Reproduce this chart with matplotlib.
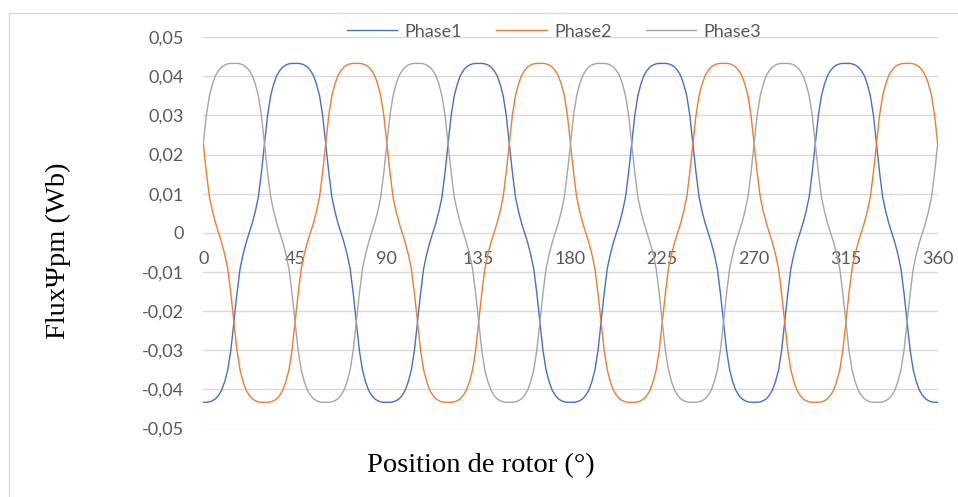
import numpy as np
import matplotlib.pyplot as plt
from matplotlib.lines import Line2D

# rotor position (deg), one sample every 1.5 deg
angle = np.arange(0, 361, 1.5)

# flux linkage per phase (Wb)
phase1 = [
    -0.0433, -0.0433, -0.0432, -0.0429, -0.0424, -0.0415, -0.0402, -0.0380, -0.0350, -0.0300, -0.0228, -0.0155, -0.0092, -0.0055, -0.0025,
    0.0000, 0.0025, 0.0055, 0.0092, 0.0155, 0.0228, 0.0300, 0.0350, 0.0380, 0.0402, 0.0415, 0.0424, 0.0429, 0.0432, 0.0433,
    0.0433, 0.0433, 0.0432, 0.0429, 0.0424, 0.0415, 0.0402, 0.0380, 0.0350, 0.0300, 0.0228, 0.0155, 0.0092, 0.0055, 0.0025,
    0.0000, -0.0025, -0.0055, -0.0092, -0.0155, -0.0228, -0.0300, -0.0350, -0.0380, -0.0402, -0.0415, -0.0424, -0.0429, -0.0432, -0.0433,
    -0.0433, -0.0433, -0.0432, -0.0429, -0.0424, -0.0415, -0.0402, -0.0380, -0.0350, -0.0300, -0.0228, -0.0155, -0.0092, -0.0055, -0.0025,
    0.0000, 0.0025, 0.0055, 0.0092, 0.0155, 0.0228, 0.0300, 0.0350, 0.0380, 0.0402, 0.0415, 0.0424, 0.0429, 0.0432, 0.0433,
    0.0433, 0.0433, 0.0432, 0.0429, 0.0424, 0.0415, 0.0402, 0.0380, 0.0350, 0.0300, 0.0228, 0.0155, 0.0092, 0.0055, 0.0025,
    0.0000, -0.0025, -0.0055, -0.0092, -0.0155, -0.0228, -0.0300, -0.0350, -0.0380, -0.0402, -0.0415, -0.0424, -0.0429, -0.0432, -0.0433,
    -0.0433, -0.0433, -0.0432, -0.0429, -0.0424, -0.0415, -0.0402, -0.0380, -0.0350, -0.0300, -0.0228, -0.0155, -0.0092, -0.0055, -0.0025,
    0.0000, 0.0025, 0.0055, 0.0092, 0.0155, 0.0228, 0.0300, 0.0350, 0.0380, 0.0402, 0.0415, 0.0424, 0.0429, 0.0432, 0.0433,
    0.0433, 0.0433, 0.0432, 0.0429, 0.0424, 0.0415, 0.0402, 0.0380, 0.0350, 0.0300, 0.0228, 0.0155, 0.0092, 0.0055, 0.0025,
    0.0000, -0.0025, -0.0055, -0.0092, -0.0155, -0.0228, -0.0300, -0.0350, -0.0380, -0.0402, -0.0415, -0.0424, -0.0429, -0.0432, -0.0433,
    -0.0433, -0.0433, -0.0432, -0.0429, -0.0424, -0.0415, -0.0402, -0.0380, -0.0350, -0.0300, -0.0228, -0.0155, -0.0092, -0.0055, -0.0025,
    0.0000, 0.0025, 0.0055, 0.0092, 0.0155, 0.0228, 0.0300, 0.0350, 0.0380, 0.0402, 0.0415, 0.0424, 0.0429, 0.0432, 0.0433,
    0.0433, 0.0433, 0.0432, 0.0429, 0.0424, 0.0415, 0.0402, 0.0380, 0.0350, 0.0300, 0.0228, 0.0155, 0.0092, 0.0055, 0.0025,
    0.0000, -0.0025, -0.0055, -0.0092, -0.0155, -0.0228, -0.0300, -0.0350, -0.0380, -0.0402, -0.0415, -0.0424, -0.0429, -0.0432, -0.0433,
    -0.0433,
]

phase2 = [
    0.0228, 0.0155, 0.0092, 0.0055, 0.0025, 0.0000, -0.0025, -0.0055, -0.0092, -0.0155, -0.0228, -0.0300, -0.0350, -0.0380, -0.0402,
    -0.0415, -0.0424, -0.0429, -0.0432, -0.0433, -0.0433, -0.0433, -0.0432, -0.0429, -0.0424, -0.0415, -0.0402, -0.0380, -0.0350, -0.0300,
    -0.0228, -0.0155, -0.0092, -0.0055, -0.0025, 0.0000, 0.0025, 0.0055, 0.0092, 0.0155, 0.0228, 0.0300, 0.0350, 0.0380, 0.0402,
    0.0415, 0.0424, 0.0429, 0.0432, 0.0433, 0.0433, 0.0433, 0.0432, 0.0429, 0.0424, 0.0415, 0.0402, 0.0380, 0.0350, 0.0300,
    0.0228, 0.0155, 0.0092, 0.0055, 0.0025, 0.0000, -0.0025, -0.0055, -0.0092, -0.0155, -0.0228, -0.0300, -0.0350, -0.0380, -0.0402,
    -0.0415, -0.0424, -0.0429, -0.0432, -0.0433, -0.0433, -0.0433, -0.0432, -0.0429, -0.0424, -0.0415, -0.0402, -0.0380, -0.0350, -0.0300,
    -0.0228, -0.0155, -0.0092, -0.0055, -0.0025, 0.0000, 0.0025, 0.0055, 0.0092, 0.0155, 0.0228, 0.0300, 0.0350, 0.0380, 0.0402,
    0.0415, 0.0424, 0.0429, 0.0432, 0.0433, 0.0433, 0.0433, 0.0432, 0.0429, 0.0424, 0.0415, 0.0402, 0.0380, 0.0350, 0.0300,
    0.0228, 0.0155, 0.0092, 0.0055, 0.0025, 0.0000, -0.0025, -0.0055, -0.0092, -0.0155, -0.0228, -0.0300, -0.0350, -0.0380, -0.0402,
    -0.0415, -0.0424, -0.0429, -0.0432, -0.0433, -0.0433, -0.0433, -0.0432, -0.0429, -0.0424, -0.0415, -0.0402, -0.0380, -0.0350, -0.0300,
    -0.0228, -0.0155, -0.0092, -0.0055, -0.0025, 0.0000, 0.0025, 0.0055, 0.0092, 0.0155, 0.0228, 0.0300, 0.0350, 0.0380, 0.0402,
    0.0415, 0.0424, 0.0429, 0.0432, 0.0433, 0.0433, 0.0433, 0.0432, 0.0429, 0.0424, 0.0415, 0.0402, 0.0380, 0.0350, 0.0300,
    0.0228, 0.0155, 0.0092, 0.0055, 0.0025, 0.0000, -0.0025, -0.0055, -0.0092, -0.0155, -0.0228, -0.0300, -0.0350, -0.0380, -0.0402,
    -0.0415, -0.0424, -0.0429, -0.0432, -0.0433, -0.0433, -0.0433, -0.0432, -0.0429, -0.0424, -0.0415, -0.0402, -0.0380, -0.0350, -0.0300,
    -0.0228, -0.0155, -0.0092, -0.0055, -0.0025, 0.0000, 0.0025, 0.0055, 0.0092, 0.0155, 0.0228, 0.0300, 0.0350, 0.0380, 0.0402,
    0.0415, 0.0424, 0.0429, 0.0432, 0.0433, 0.0433, 0.0433, 0.0432, 0.0429, 0.0424, 0.0415, 0.0402, 0.0380, 0.0350, 0.0300,
    0.0228,
]

phase3 = [
    0.0228, 0.0300, 0.0350, 0.0380, 0.0402, 0.0415, 0.0424, 0.0429, 0.0432, 0.0433, 0.0433, 0.0433, 0.0432, 0.0429, 0.0424,
    0.0415, 0.0402, 0.0380, 0.0350, 0.0300, 0.0228, 0.0155, 0.0092, 0.0055, 0.0025, 0.0000, -0.0025, -0.0055, -0.0092, -0.0155,
    -0.0228, -0.0300, -0.0350, -0.0380, -0.0402, -0.0415, -0.0424, -0.0429, -0.0432, -0.0433, -0.0433, -0.0433, -0.0432, -0.0429, -0.0424,
    -0.0415, -0.0402, -0.0380, -0.0350, -0.0300, -0.0228, -0.0155, -0.0092, -0.0055, -0.0025, 0.0000, 0.0025, 0.0055, 0.0092, 0.0155,
    0.0228, 0.0300, 0.0350, 0.0380, 0.0402, 0.0415, 0.0424, 0.0429, 0.0432, 0.0433, 0.0433, 0.0433, 0.0432, 0.0429, 0.0424,
    0.0415, 0.0402, 0.0380, 0.0350, 0.0300, 0.0228, 0.0155, 0.0092, 0.0055, 0.0025, 0.0000, -0.0025, -0.0055, -0.0092, -0.0155,
    -0.0228, -0.0300, -0.0350, -0.0380, -0.0402, -0.0415, -0.0424, -0.0429, -0.0432, -0.0433, -0.0433, -0.0433, -0.0432, -0.0429, -0.0424,
    -0.0415, -0.0402, -0.0380, -0.0350, -0.0300, -0.0228, -0.0155, -0.0092, -0.0055, -0.0025, 0.0000, 0.0025, 0.0055, 0.0092, 0.0155,
    0.0228, 0.0300, 0.0350, 0.0380, 0.0402, 0.0415, 0.0424, 0.0429, 0.0432, 0.0433, 0.0433, 0.0433, 0.0432, 0.0429, 0.0424,
    0.0415, 0.0402, 0.0380, 0.0350, 0.0300, 0.0228, 0.0155, 0.0092, 0.0055, 0.0025, 0.0000, -0.0025, -0.0055, -0.0092, -0.0155,
    -0.0228, -0.0300, -0.0350, -0.0380, -0.0402, -0.0415, -0.0424, -0.0429, -0.0432, -0.0433, -0.0433, -0.0433, -0.0432, -0.0429, -0.0424,
    -0.0415, -0.0402, -0.0380, -0.0350, -0.0300, -0.0228, -0.0155, -0.0092, -0.0055, -0.0025, 0.0000, 0.0025, 0.0055, 0.0092, 0.0155,
    0.0228, 0.0300, 0.0350, 0.0380, 0.0402, 0.0415, 0.0424, 0.0429, 0.0432, 0.0433, 0.0433, 0.0433, 0.0432, 0.0429, 0.0424,
    0.0415, 0.0402, 0.0380, 0.0350, 0.0300, 0.0228, 0.0155, 0.0092, 0.0055, 0.0025, 0.0000, -0.0025, -0.0055, -0.0092, -0.0155,
    -0.0228, -0.0300, -0.0350, -0.0380, -0.0402, -0.0415, -0.0424, -0.0429, -0.0432, -0.0433, -0.0433, -0.0433, -0.0432, -0.0429, -0.0424,
    -0.0415, -0.0402, -0.0380, -0.0350, -0.0300, -0.0228, -0.0155, -0.0092, -0.0055, -0.0025, 0.0000, 0.0025, 0.0055, 0.0092, 0.0155,
    0.0228,
]

series_names = ['Phase1', 'Phase2', 'Phase3']
colors = ['#4472C4', '#ED7D31', '#A5A5A5']

x_ticks = [0, 45, 90, 135, 180, 225, 270, 315, 360]
y_ticks = [0.05, 0.04, 0.03, 0.02, 0.01, 0, -0.01, -0.02, -0.03, -0.04, -0.05]
y_tick_labels = ['0,05', '0,04', '0,03', '0,02', '0,01', '0',
                 '-0,01', '-0,02', '-0,03', '-0,04', '-0,05']

text_color = '#595959'
grid_color = '#D9D9D9'
tick_font = 'Lato'

W, H = 958, 497
fig = plt.figure(figsize=(W / 100, H / 100), dpi=100)
ax = fig.add_axes([203.3 / W, 1 - 428.5 / H, (937.7 - 203.3) / W, (428.5 - 37.2) / H])

for name, vals, c in zip(series_names, [phase1, phase2, phase3], colors):
    ax.plot(angle, vals, color=c, lw=1.0, label=name, zorder=3)

ax.set_xlim(0, 360)
ax.set_ylim(-0.05, 0.05)

ax.set_yticks(y_ticks)
ax.set_yticklabels(y_tick_labels)
ax.set_xticks(x_ticks)
ax.set_xticklabels([str(t) for t in x_ticks])

# horizontal axis sits on the zero line, like Excel
ax.spines['bottom'].set_position(('data', 0))
for s in ax.spines.values():
    s.set_color('none')
ax.grid(axis='y', color=grid_color, lw=1.0, zorder=0)
ax.tick_params(axis='both', length=0, labelcolor=text_color, labelsize=13)
ax.tick_params(axis='y', pad=14)
ax.tick_params(axis='x', pad=13)
for lab in ax.get_xticklabels() + ax.get_yticklabels():
    lab.set_family(tick_font)

fig.text(58 / W, 1 - 251 / H, 'FluxΨpm (Wb)', rotation=90, ha='center', va='center',
         family='Liberation Serif', fontsize=20.5, color='black')
fig.text(481 / W, 1 - 466 / H, 'Position de rotor (°)', ha='center', va='center',
         family='Liberation Serif', fontsize=20.5, color='black')

ax.legend(loc='center', bbox_to_anchor=(554 / W, 1 - 31.7 / H), bbox_transform=fig.transFigure,
          ncol=3, frameon=False, handlelength=2.8, handletextpad=0.4, columnspacing=1.9,
          borderpad=0, prop={'family': tick_font, 'size': 13}, labelcolor=text_color)

# chart area border (top and left edges only are visible)
fig.add_artist(Line2D([8.5 / W, 1], [1 - 12.5 / H] * 2, color=grid_color, lw=1.0,
                      transform=fig.transFigure))
fig.add_artist(Line2D([8.5 / W] * 2, [0, 1 - 12.5 / H], color=grid_color, lw=1.0,
                      transform=fig.transFigure))

fig.savefig('out.png', dpi=100)
